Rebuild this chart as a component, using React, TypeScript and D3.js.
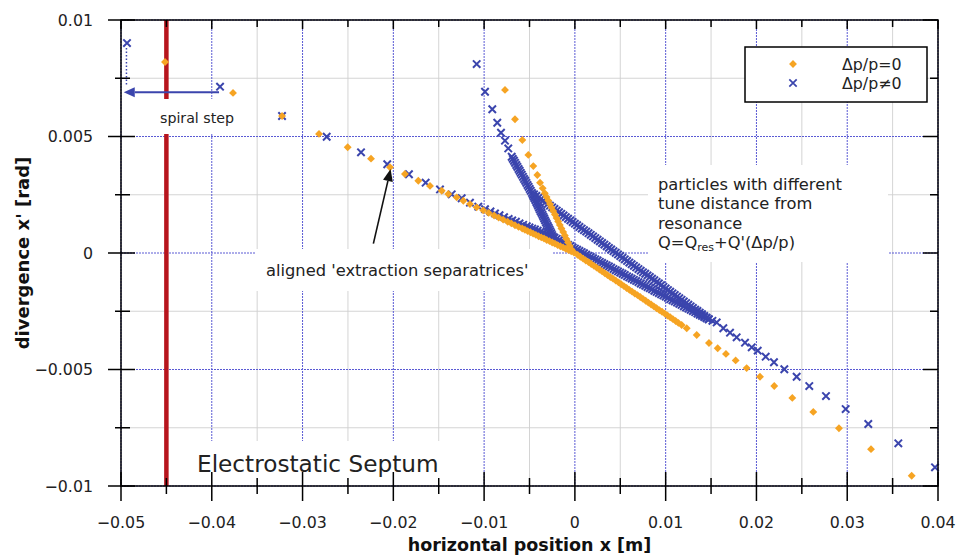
import React from 'react';
import * as d3 from 'd3';

type P = [number, number];

const W = 958;
const H = 557;

// axis ticks
const xMajorTicks = [-0.05, -0.04, -0.03, -0.02, -0.01, 0, 0.01, 0.02, 0.03, 0.04];
const xTickLabels = ['−0.05', '−0.04', '−0.03', '−0.02', '−0.01', '0', '0.01', '0.02', '0.03', '0.04'];
const xMinorTicks = [-0.045, -0.035, -0.025, -0.015, -0.005, 0.005, 0.015, 0.025, 0.035];
const yMajorTicks = [-0.01, -0.005, 0, 0.005, 0.01];
const yTickLabels = ['−0.01', '−0.005', '0', '0.005', '0.01'];
const yMinorTicks = [-0.0075, -0.0025, 0.0025, 0.0075];

const septumX = -0.045;

// Δp/p = 0 (orange diamonds)
const orangeOuterArm: P[] = [
  [-0.04515, 0.0082], [-0.03766, 0.00687], [-0.03226, 0.00588], [-0.02819, 0.00511],
  [-0.02503, 0.00454], [-0.02246, 0.00405], [-0.02037, 0.00368], [-0.01872, 0.00339],
  [-0.01725, 0.0031], [-0.01596, 0.00288], [-0.01467, 0.00267], [-0.01395, 0.00253],
  [-0.01302, 0.00239], [-0.01229, 0.00224], [-0.01156, 0.0021], [-0.01082, 0.00196],
];
const orangeInnerArm: P[] = [
  [-0.0101, 0.00183], [-0.0095, 0.00172], [-0.0089, 0.00161], [-0.0084, 0.00152],
  [-0.0079, 0.00143], [-0.0074, 0.00134], [-0.007, 0.00127], [-0.0066, 0.00119],
  [-0.0062, 0.00112], [-0.0058, 0.00105], [-0.0055, 0.001], [-0.0052, 0.00094],
  [-0.0049, 0.00089], [-0.0046, 0.00083], [-0.0043, 0.00078], [-0.004, 0.00072],
  [-0.0037, 0.00067], [-0.0034, 0.00062], [-0.0031, 0.00056], [-0.0028, 0.00051],
  [-0.0025, 0.00045], [-0.0022, 0.0004], [-0.0019, 0.00034], [-0.0016, 0.00029],
  [-0.0013, 0.00024], [-0.001, 0.00018], [-0.0007, 0.00013], [-0.0004, 0.00007],
  [-0.0001, 0.00002],
];
const orangeSteepArm: P[] = [
  [-0.0077, 0.007], [-0.0066, 0.00574], [-0.00579, 0.00485], [-0.00513, 0.00421],
  [-0.00458, 0.00373], [-0.00414, 0.00335], [-0.00384, 0.00302], [-0.00355, 0.00278],
  [-0.00331, 0.00256], [-0.00312, 0.0024], [-0.00293, 0.00225], [-0.00275, 0.0021],
  [-0.00257, 0.00195], [-0.00239, 0.0018], [-0.0022, 0.00165], [-0.00202, 0.0015],
  [-0.00184, 0.00135], [-0.00166, 0.0012], [-0.00148, 0.00105], [-0.00129, 0.0009],
  [-0.00111, 0.00075], [-0.00093, 0.0006], [-0.00075, 0.00045], [-0.00056, 0.0003],
  [-0.00038, 0.00015],
];
const orangeExitArm: P[] = [
  [0.0003, -0.00008], [0.0006, -0.00016], [0.0009, -0.00024], [0.0012, -0.00032],
  [0.0015, -0.00039], [0.0018, -0.00047], [0.0021, -0.00055], [0.0024, -0.00063],
  [0.0027, -0.00071], [0.003, -0.00079], [0.0033, -0.00087], [0.0036, -0.00095],
  [0.0039, -0.00103], [0.0042, -0.0011], [0.0045, -0.00118], [0.0048, -0.00126],
  [0.0051, -0.00134], [0.0054, -0.00142], [0.0057, -0.0015], [0.006, -0.00158],
  [0.0063, -0.00166], [0.0066, -0.00174], [0.0069, -0.00181], [0.0072, -0.00189],
  [0.0075, -0.00197], [0.0078, -0.00205], [0.0081, -0.00213], [0.0084, -0.00221],
  [0.0087, -0.00229], [0.009, -0.00237], [0.0093, -0.00245], [0.0096, -0.00252],
  [0.0099, -0.0026], [0.0102, -0.00268], [0.0105, -0.00276], [0.0108, -0.00284],
  [0.0111, -0.00292], [0.0114, -0.003], [0.01176, -0.00309], [0.01232, -0.00323],
  [0.01342, -0.00352], [0.01477, -0.00386], [0.01573, -0.00409], [0.01664, -0.00433],
  [0.01771, -0.00461], [0.01892, -0.00494], [0.02039, -0.00531], [0.02196, -0.00571],
  [0.02395, -0.00622], [0.02626, -0.00682], [0.02909, -0.00752], [0.03262, -0.00842],
  [0.0371, -0.00956],
];

// Δp/p ≠ 0 (blue crosses)
const blueOuterArm: P[] = [
  [-0.04934, 0.00901], [-0.03909, 0.00714], [-0.03226, 0.00588], [-0.02734, 0.00499],
  [-0.02356, 0.00432], [-0.02067, 0.00381], [-0.01828, 0.00338], [-0.01644, 0.00302],
  [-0.01486, 0.00273], [-0.01357, 0.00252], [-0.01247, 0.00235], [-0.01156, 0.00216],
  [-0.01064, 0.00199],
];
const blueInnerArm: P[] = [
  [-0.0099, 0.00188], [-0.0093, 0.00178], [-0.0088, 0.0017], [-0.0083, 0.00162],
  [-0.0078, 0.00154], [-0.0073, 0.00146], [-0.0069, 0.0014], [-0.0065, 0.00134],
  [-0.0061, 0.00127], [-0.0057, 0.00121], [-0.0053, 0.00115], [-0.005, 0.0011],
  [-0.0047, 0.00105], [-0.0044, 0.00101], [-0.0041, 0.00096], [-0.0038, 0.00091],
  [-0.0035, 0.00086], [-0.0032, 0.00082], [-0.0029, 0.00077], [-0.0026, 0.00072],
];
const blueSteepArm: P[] = [
  [-0.01082, 0.00811], [-0.0099, 0.00692], [-0.0091, 0.00617], [-0.00855, 0.00559],
  [-0.00814, 0.00516], [-0.0077, 0.00482], [-0.00734, 0.00449], [-0.00696, 0.00413],
  [-0.00684, 0.00404], [-0.00671, 0.00396], [-0.00659, 0.00387], [-0.00646, 0.00378],
  [-0.00634, 0.0037], [-0.00621, 0.00361], [-0.00609, 0.00353], [-0.00597, 0.00344],
  [-0.00585, 0.00336], [-0.00572, 0.00327], [-0.0056, 0.00318], [-0.00547, 0.0031],
  [-0.00535, 0.00301], [-0.00522, 0.00292], [-0.0051, 0.00284], [-0.00498, 0.00275],
  [-0.00486, 0.00267], [-0.00473, 0.00258],
];
const blueLink: P[] = [
  [-0.00464, 0.0025], [-0.00454, 0.00242], [-0.00445, 0.00235], [-0.00435, 0.00227],
  [-0.00425, 0.00219], [-0.00415, 0.00211], [-0.00406, 0.00203], [-0.00396, 0.00195],
  [-0.00387, 0.00187], [-0.00377, 0.00179], [-0.00367, 0.00172], [-0.00357, 0.00164],
  [-0.00348, 0.00156], [-0.00338, 0.00148], [-0.00329, 0.0014], [-0.00319, 0.00132],
  [-0.00309, 0.00124], [-0.00299, 0.00116], [-0.0029, 0.00109], [-0.0028, 0.00101],
  [-0.0027, 0.00093], [-0.0026, 0.00085], [-0.00251, 0.00077], [-0.00241, 0.00069],
];
const blueUpperBand: P[] = [
  [-0.0045, 0.00252], [-0.00425, 0.00245], [-0.004, 0.00238], [-0.00375, 0.00231],
  [-0.0035, 0.00224], [-0.00325, 0.00217], [-0.003, 0.0021], [-0.00275, 0.00203],
  [-0.0025, 0.00196], [-0.00225, 0.00189], [-0.002, 0.00182], [-0.00175, 0.00175],
  [-0.0015, 0.00168], [-0.00125, 0.00161], [-0.001, 0.00154], [-0.00075, 0.00147],
  [-0.0005, 0.0014], [-0.00025, 0.00133], [0.0, 0.00126], [0.00025, 0.00119],
  [0.0005, 0.00112], [0.00075, 0.00105], [0.001, 0.00098], [0.00125, 0.00092],
  [0.0015, 0.00085], [0.00175, 0.00078], [0.002, 0.00071], [0.00225, 0.00064],
  [0.0025, 0.00057], [0.00275, 0.0005], [0.003, 0.00043], [0.00325, 0.00036],
  [0.0035, 0.00029], [0.00375, 0.00022], [0.004, 0.00015], [0.00425, 0.00008],
  [0.0045, 0.00001], [0.00475, -0.00006], [0.005, -0.00013], [0.00525, -0.0002],
  [0.0055, -0.00027], [0.00575, -0.00034], [0.006, -0.00041], [0.00625, -0.00048],
  [0.0065, -0.00055], [0.00675, -0.00062], [0.007, -0.00069], [0.00725, -0.00076],
  [0.0075, -0.00083], [0.00775, -0.00089], [0.008, -0.00096], [0.00825, -0.00103],
  [0.0085, -0.0011], [0.00875, -0.00117], [0.009, -0.00124], [0.00925, -0.00131],
  [0.0095, -0.00138], [0.00975, -0.00145], [0.01, -0.00152], [0.01025, -0.00159],
  [0.0105, -0.00166], [0.01075, -0.00173], [0.011, -0.0018], [0.01125, -0.00187],
  [0.0115, -0.00194], [0.01175, -0.00201], [0.012, -0.00208], [0.01225, -0.00215],
  [0.0125, -0.00222], [0.01275, -0.00229], [0.013, -0.00236], [0.01325, -0.00243],
  [0.0135, -0.00249], [0.01375, -0.00256], [0.014, -0.00263], [0.01425, -0.0027],
  [0.0145, -0.00277], [0.01475, -0.00284],
];
const blueLowerBand: P[] = [
  [-0.00225, 0.00066], [-0.002, 0.00061], [-0.00175, 0.00055], [-0.0015, 0.0005],
  [-0.00125, 0.00045], [-0.001, 0.0004], [-0.00075, 0.00035], [-0.0005, 0.0003],
  [-0.00025, 0.00024], [0.0, 0.00019], [0.00025, 0.00014], [0.0005, 0.00009],
  [0.00075, 0.00004], [0.001, -0.00001], [0.00125, -0.00007], [0.0015, -0.00012],
  [0.00175, -0.00017], [0.002, -0.00022], [0.00225, -0.00027], [0.0025, -0.00032],
  [0.00275, -0.00038], [0.003, -0.00043], [0.00325, -0.00048], [0.0035, -0.00053],
  [0.00375, -0.00058], [0.004, -0.00063], [0.00425, -0.00069], [0.0045, -0.00074],
  [0.00475, -0.00079], [0.005, -0.00084], [0.00525, -0.00089], [0.0055, -0.00094],
  [0.00575, -0.001], [0.006, -0.00105], [0.00625, -0.0011], [0.0065, -0.00115],
  [0.00675, -0.0012], [0.007, -0.00125], [0.00725, -0.00131], [0.0075, -0.00136],
  [0.00775, -0.00141], [0.008, -0.00146], [0.00825, -0.00151], [0.0085, -0.00156],
  [0.00875, -0.00162], [0.009, -0.00167], [0.00925, -0.00172], [0.0095, -0.00177],
  [0.00975, -0.00182], [0.01, -0.00187], [0.01025, -0.00192], [0.0105, -0.00198],
  [0.01075, -0.00203], [0.011, -0.00208], [0.01125, -0.00213], [0.0115, -0.00218],
  [0.01175, -0.00223], [0.012, -0.00229], [0.01225, -0.00234], [0.0125, -0.00239],
  [0.01275, -0.00244], [0.013, -0.00249], [0.01325, -0.00254], [0.0135, -0.0026],
  [0.01375, -0.00265], [0.014, -0.0027], [0.01425, -0.00275], [0.0145, -0.0028],
  [0.01475, -0.00285],
];
const blueExitArm: P[] = [
  [0.01515, -0.00291], [0.01562, -0.00298], [0.01635, -0.00323], [0.01709, -0.00342],
  [0.01782, -0.00362], [0.01874, -0.00385], [0.01948, -0.00405], [0.02014, -0.00419],
  [0.02102, -0.00445], [0.02193, -0.00469], [0.02307, -0.00499], [0.02443, -0.00531],
  [0.02582, -0.00571], [0.02766, -0.00614], [0.02983, -0.0067], [0.03232, -0.00734],
  [0.03563, -0.00817], [0.03967, -0.0092],
];

const legendLabels = ['Δp/p=0', 'Δp/p≠0'];

// annotation anchors (data units)
const spiralArrow = { from: [-0.0392, 0.0069] as P, to: [-0.0497, 0.0069] as P };
const spiralDots = { from: [-0.0494, 0.0088] as P, to: [-0.0494, 0.0072] as P };
const separatrixArrow = { from: [-0.0222, 0.0004] as P, to: [-0.0203, 0.0036] as P };

const ORANGE = '#f6a423';
const BLUE = '#3b45ad';
const RED = '#b7151d';
const FONT = "'DejaVu Sans', 'Liberation Sans', sans-serif";

function arrowHead(x1: number, y1: number, x2: number, y2: number, len: number, half: number) {
  const dx = x2 - x1;
  const dy = y2 - y1;
  const L = Math.hypot(dx, dy);
  const ux = dx / L;
  const uy = dy / L;
  const bx = x2 - ux * len;
  const by = y2 - uy * len;
  return {
    base: [bx, by],
    path: `M${x2},${y2}L${bx - uy * half},${by + ux * half}L${bx + uy * half},${by - ux * half}Z`,
  };
}

export default function App() {
  const x = d3.scaleLinear().domain([-0.05, 0.04]).range([121, 938]);
  const y = d3.scaleLinear().domain([-0.01, 0.01]).range([486, 20]);
  const [x0, x1] = x.range();
  const [y0, y1] = [y(0.01), y(-0.01)];

  const orangePts = [...orangeOuterArm, ...orangeInnerArm, ...orangeSteepArm, ...orangeExitArm];
  const bluePts = [
    ...blueOuterArm, ...blueInnerArm, ...blueSteepArm, ...blueLink,
    ...blueUpperBand, ...blueLowerBand, ...blueExitArm,
  ];

  const diamond = d3.symbol().type(d3.symbolSquare).size(31)() as string;
  const cross = 'M-3.7,-3.7L3.7,3.7M-3.7,3.7L3.7,-3.7';

  const sa = arrowHead(x(spiralArrow.from[0]), y(spiralArrow.from[1]), x(spiralArrow.to[0]), y(spiralArrow.to[1]), 11, 5);
  const ea = arrowHead(x(separatrixArrow.from[0]), y(separatrixArrow.from[1]), x(separatrixArrow.to[0]), y(separatrixArrow.to[1]), 12, 5);

  return (
    <svg width={W} height={H} viewBox={`0 0 ${W} ${H}`} style={{ position: 'absolute', left: 0, top: 0, background: '#fff' }} fontFamily={FONT}>
      <rect width={W} height={H} fill="#fff" />
      {/* minor grid */}
      <g stroke="#cfcfcf" strokeWidth={0.9}>
        {xMinorTicks.map((t) => <line key={'xm' + t} x1={x(t)} x2={x(t)} y1={y0} y2={y1} />)}
        {yMinorTicks.map((t) => <line key={'ym' + t} x1={x0} x2={x1} y1={y(t)} y2={y(t)} />)}
      </g>
      {/* major grid */}
      <g stroke="#5a5ad4" strokeWidth={1} strokeDasharray="2,1">
        {xMajorTicks.map((t) => <line key={'xM' + t} x1={x(t)} x2={x(t)} y1={y0} y2={y1} />)}
        {yMajorTicks.map((t) => <line key={'yM' + t} x1={x0} x2={x1} y1={y(t)} y2={y(t)} />)}
      </g>

      {/* septum */}
      <line x1={x(septumX)} x2={x(septumX)} y1={y0} y2={y1} stroke={RED} strokeWidth={4.5} />

      {/* text boxes */}
      <rect x={140} y={99} width={110} height={35} fill="#fff" />
      <rect x={255} y={249} width={298} height={42} fill="#fff" />
      <rect x={648} y={165} width={240} height={97} fill="#fff" />
      <rect x={185} y={441} width={262} height={44} fill="#fff" />

      {/* data: blue then orange */}
      <g stroke={BLUE} strokeWidth={2} fill="none">
        {bluePts.map((p, i) => (
          <path key={'b' + i} d={cross} transform={`translate(${x(p[0])},${y(p[1])})`} />
        ))}
      </g>
      <g fill={ORANGE}>
        {orangePts.map((p, i) => (
          <path key={'o' + i} d={diamond} transform={`translate(${x(p[0])},${y(p[1])}) rotate(45)`} />
        ))}
      </g>

      {/* spiral step annotation */}
      <line x1={x(spiralDots.from[0])} x2={x(spiralDots.to[0])} y1={y(spiralDots.from[1])} y2={y(spiralDots.to[1])}
        stroke={BLUE} strokeWidth={1.5} strokeDasharray="1.5,2" />
      <line x1={x(spiralArrow.from[0])} y1={y(spiralArrow.from[1])} x2={sa.base[0]} y2={sa.base[1]} stroke={BLUE} strokeWidth={1.8} />
      <path d={sa.path} fill={BLUE} />
      <text x={160} y={123} fontSize={14.2} fill="#222">spiral step</text>

      {/* separatrix annotation */}
      <line x1={x(separatrixArrow.from[0])} y1={y(separatrixArrow.from[1])} x2={ea.base[0]} y2={ea.base[1]} stroke="#111" strokeWidth={1.6} />
      <path d={ea.path} fill="#111" />
      <text x={266} y={276} fontSize={16.3} fill="#222">aligned 'extraction separatrices'</text>

      {/* tune annotation */}
      <text x={658} y={190} fontSize={16.3} fill="#222">
        <tspan x={658} dy={0}>particles with different</tspan>
        <tspan x={658} dy={19.4}>tune distance from</tspan>
        <tspan x={658} dy={19.4}>resonance</tspan>
        <tspan x={658} dy={19.4}>Q=Q<tspan fontSize={11} dy={3}>res</tspan><tspan dy={-3}>+Q'(Δp/p)</tspan></tspan>
      </text>

      <text x={197} y={472} fontSize={23.2} fill="#222">Electrostatic Septum</text>

      {/* frame */}
      <rect x={x0} y={y0} width={x1 - x0} height={y1 - y0} fill="none" stroke="#000" strokeWidth={1.5} />

      {/* ticks */}
      <g stroke="#000" strokeWidth={1.5}>
        {xMajorTicks.map((t) => <line key={'bt' + t} x1={x(t)} x2={x(t)} y1={y1 - 14} y2={y1 + 15} />)}
        {xMinorTicks.map((t) => <line key={'btm' + t} x1={x(t)} x2={x(t)} y1={y1 - 8} y2={y1 + 8} />)}
        {xMajorTicks.map((t) => <line key={'tt' + t} x1={x(t)} x2={x(t)} y1={y0} y2={y0 + 9} />)}
        {xMinorTicks.map((t) => <line key={'ttm' + t} x1={x(t)} x2={x(t)} y1={y0} y2={y0 + 7} />)}
        {yMajorTicks.map((t) => <line key={'lt' + t} x1={x0 - 13} x2={x0 + 14} y1={y(t)} y2={y(t)} />)}
        {yMinorTicks.map((t) => <line key={'ltm' + t} x1={x0 - 6} x2={x0 + 9} y1={y(t)} y2={y(t)} />)}
        {yMajorTicks.map((t) => <line key={'rt' + t} x1={x1 - 15} x2={x1} y1={y(t)} y2={y(t)} />)}
        {yMinorTicks.map((t) => <line key={'rtm' + t} x1={x1 - 8} x2={x1} y1={y(t)} y2={y(t)} />)}
      </g>

      {/* tick labels */}
      <g fontSize={15.8} fill="#222">
        {xMajorTicks.map((t, i) => (
          <text key={'xl' + t} x={x(t)} y={528} textAnchor="middle">{xTickLabels[i]}</text>
        ))}
        {yMajorTicks.map((t, i) => (
          <text key={'yl' + t} x={93} y={y(t)} textAnchor="end" dominantBaseline="central">{yTickLabels[i]}</text>
        ))}
      </g>

      {/* axis labels */}
      <text x={(x0 + x1) / 2} y={551} textAnchor="middle" fontSize={17.5} fontWeight="bold" fill="#111">horizontal position x [m]</text>
      <text transform={`translate(29,${(y0 + y1) / 2}) rotate(-90)`} textAnchor="middle" fontSize={18} fontWeight="bold" fill="#111">divergence x' [rad]</text>

      {/* legend */}
      <rect x={745} y={47} width={182} height={55} fill="#fff" stroke="#000" strokeWidth={1.5} />
      <path d={diamond} transform="translate(793,64) rotate(45)" fill={ORANGE} />
      <path d={cross} transform="translate(793,83)" stroke={BLUE} strokeWidth={1.7} fill="none" />
      <text x={842} y={70} fontSize={15.8} fill="#222">{legendLabels[0]}</text>
      <text x={842} y={89} fontSize={15.8} fill="#222">{legendLabels[1]}</text>
    </svg>
  );
}
